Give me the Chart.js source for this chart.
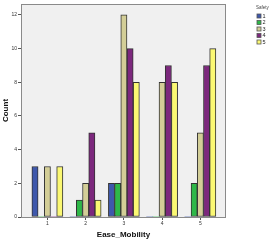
<!DOCTYPE html>
<html>
<head>
<meta charset="utf-8">
<script src="https://cdn.jsdelivr.net/npm/chart.js@4"></script>
<style>
  html, body { margin: 0; padding: 0; background: #fff; }
  #wrap { width: 269px; height: 241px; }
</style>
</head>
<body>
<div id="wrap"><canvas id="myChart" width="269" height="241"></canvas></div>
<script>
// Ease_Moblity categories and Safety series (counts)
var categories = [1, 2, 3, 4, 5];
var safety1 = [3, 0, 2, 0, 0];
var safety2 = [0, 1, 2, 0, 2];
var safety3 = [3, 2, 12, 8, 5];
var safety4 = [0, 5, 10, 9, 9];
var safety5 = [3, 1, 8, 8, 10];
var yTicks = [0, 2, 4, 6, 8, 10, 12];
var seriesNames = ["1", "2", "3", "4", "5"];
var colours = ["#3e58ac", "#2eb848", "#d3ce97", "#7c287d", "#fbf873"];

var allSeries = [safety1, safety2, safety3, safety4, safety5];
var datasets = [];
for (var s = 0; s < allSeries.length; s++) {
    var pts = [];
    for (var i = 0; i < categories.length; i++) {
        pts.push({x: categories[i], y: allSeries[s][i]});
    }
    datasets.push({
        label: seriesNames[s],
        data: pts,
        backgroundColor: colours[s],
        borderColor: "#333",
        borderWidth: function(c) { return c.raw && c.raw.y > 0 ? 1 : 0; },
        borderSkipped: false,
        barThickness: 6.2
    });
}

// grey plot background and frame
var plotBox = {
    id: "plotBox",
    beforeDatasetsDraw: function(chart) {
        var a = chart.chartArea, ctx = chart.ctx;
        ctx.save();
        ctx.fillStyle = "#f0f0f0";
        ctx.fillRect(a.left, a.top, a.right - a.left, a.bottom - a.top);
        ctx.restore();
    },
    afterDatasetsDraw: function(chart) {
        var a = chart.chartArea, ctx = chart.ctx;
        ctx.save();
        ctx.strokeStyle = "#8a8a8a";
        ctx.lineWidth = 1;
        ctx.strokeRect(a.left + 0.5, a.top + 0.5, a.right - a.left - 1, a.bottom - a.top);
        ctx.restore();
    }
};

// small legend on the right, like the SPSS one
var sideLegend = {
    id: "sideLegend",
    afterDraw: function(chart) {
        var ctx = chart.ctx;
        ctx.save();
        ctx.font = "4.5px 'Liberation Sans', Arial, sans-serif";
        ctx.fillStyle = "#444";
        ctx.textBaseline = "middle";
        ctx.textAlign = "left";
        ctx.fillText("Safety", 256, 8);
        ctx.font = "5.5px 'Liberation Sans', Arial, sans-serif";
        chart.data.datasets.forEach(function(ds, k) {
            var y = 14 + k * 6.5;
            ctx.fillStyle = ds.backgroundColor;
            ctx.fillRect(257, y, 4, 4);
            ctx.strokeStyle = "#555";
            ctx.lineWidth = 0.8;
            ctx.strokeRect(257, y, 4, 4);
            ctx.fillStyle = "#222";
            ctx.fillText(ds.label, 262.5, y + 2.2);
        });
        ctx.restore();
    }
};

var ctx = document.getElementById("myChart");
var myChart = new Chart(ctx, {
    type: "bar",
    data: { datasets: datasets },
    options: {
        responsive: false,
        animation: false,
        layout: { padding: { left: 0, top: 3, right: 43, bottom: 0 } },
        plugins: { legend: { display: false }, tooltip: { enabled: false } },
        scales: {
            x: {
                type: "linear",
                offset: false,
                min: 0.31,
                max: 5.67,
                afterBuildTicks: function(scale) {
                    scale.ticks = categories.map(function(v) { return {value: v}; });
                },
                afterFit: function(scale) { scale.height = 24; },
                grid: { drawOnChartArea: false, tickLength: 3, color: "#555", offset: false },
                border: { display: false },
                ticks: { font: { size: 5, family: "'Liberation Sans', Arial" }, color: "#333", padding: 1, maxRotation: 0 },
                title: { display: true, text: "Ease_Mobility", font: { size: 8, weight: "bold", family: "'Liberation Sans', Arial" }, color: "#111", padding: { top: 0, bottom: 1 } }
            },
            y: {
                min: 0,
                max: 12.65,
                afterBuildTicks: function(scale) {
                    scale.ticks = yTicks.map(function(v) { return {value: v}; });
                },
                afterFit: function(scale) { scale.width = 21; },
                grid: { drawOnChartArea: false, tickLength: 3, color: "#555" },
                border: { display: false },
                ticks: { font: { size: 5, family: "'Liberation Sans', Arial" }, color: "#333", padding: 1 },
                title: { display: true, text: "Count", font: { size: 8, weight: "bold", family: "'Liberation Sans', Arial" }, color: "#111", padding: { top: 1, bottom: 0 } }
            }
        }
    },
    plugins: [plotBox, sideLegend]
});
</script>
</body>
</html>
